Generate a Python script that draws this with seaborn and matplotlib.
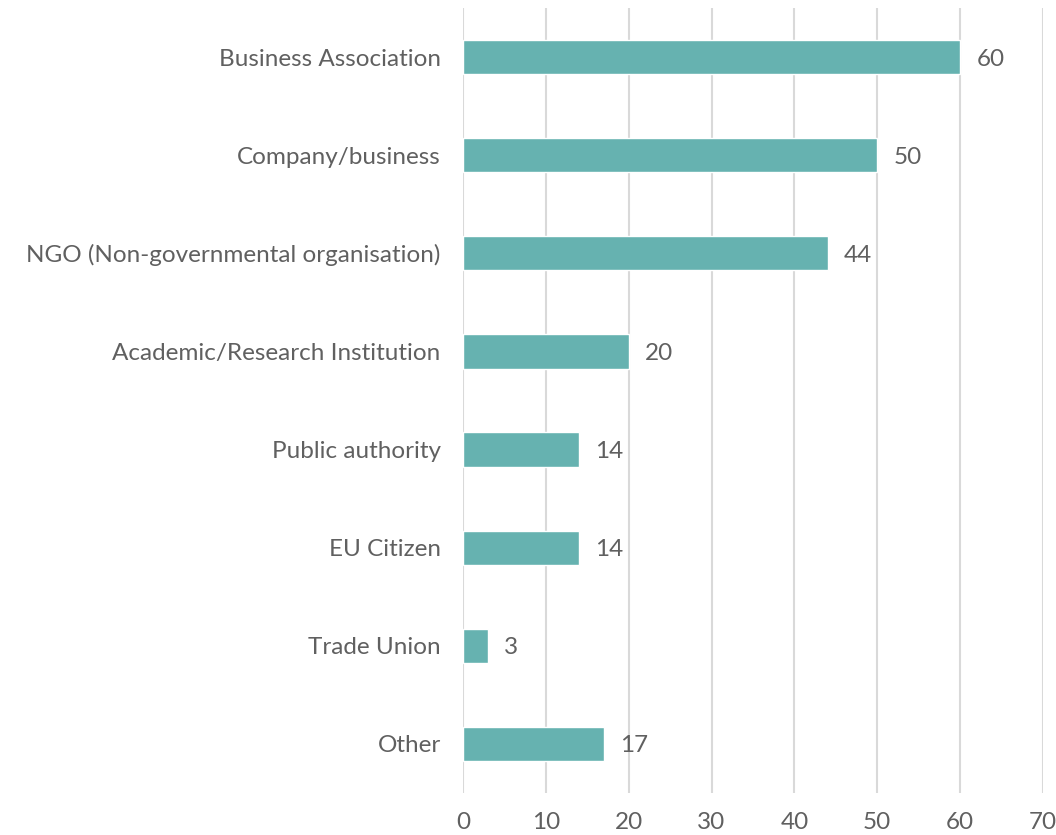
import matplotlib
matplotlib.use("Agg")
import matplotlib.pyplot as plt
import seaborn as sns
import pandas as pd

categories = ["Business Association", "Company/business", "NGO (Non-governmental organisation)",
              "Academic/Research Institution", "Public authority", "EU Citizen", "Trade Union", "Other"]
counts = [60, 50, 44, 20, 14, 14, 3, 17]
ticks = [0, 10, 20, 30, 40, 50, 60, 70]

sns.set_style("white")
plt.rcParams['font.family'] = ['Lato', 'DejaVu Sans']

df = pd.DataFrame({"category": categories, "count": counts})

fig = plt.figure(figsize=(10.56, 8.35), dpi=100)
ax = fig.add_axes([0.4384, 0.0503, 0.5493, 0.9401])

sns.barplot(data=df, y="category", x="count", color="#66b2b0", saturation=1, width=0.35, ax=ax)

# value labels to the right of each bar
for i, v in enumerate(counts):
    ax.text(v + 2.0, i + 0.02, str(v), va="center", ha="left", fontsize=17.5, color="#606060")

ax.set_xlim(0, 70)
ax.set_ylim(7.5, -0.5)
ax.set_xticks(ticks)
ax.xaxis.grid(True, color="#d9d9d9", linewidth=1.5)
ax.set_axisbelow(True)
for s in ax.spines.values():
    s.set_visible(False)
ax.set_xlabel("")
ax.set_ylabel("")
ax.tick_params(axis="both", length=0, labelsize=17.5, colors="#606060")
ax.tick_params(axis="y", pad=16)
ax.tick_params(axis="x", pad=14)

fig.savefig("out.png", dpi=100)
